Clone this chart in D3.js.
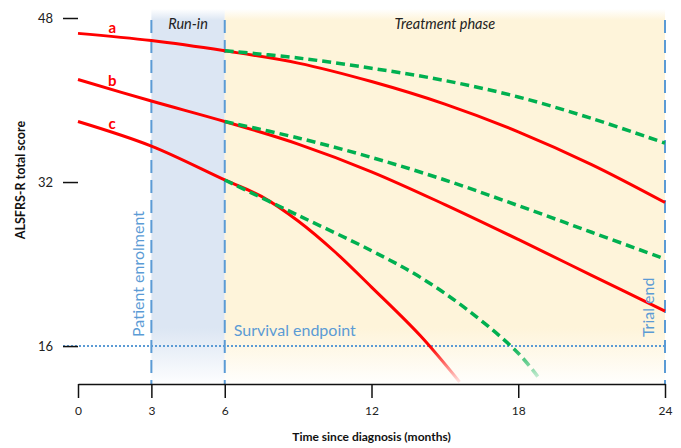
<!DOCTYPE html>
<html lang="en">
<head>
	<meta charset="utf-8">
	<title>alsfrs_trial</title>
	<style>
		body { margin: 0; background: #fff; }
		svg { display: block; font-family: Lato, "Open Sans", sans-serif; }
	</style>
</head>
<body>
	<script src="https://cdn.jsdelivr.net/npm/d3@7"></script>
	<script>
		// values
		const monthsFull = [0, 3, 6, 9, 12, 15, 18, 21, 24];
		const monthsTreat = [6, 9, 12, 15, 18, 21, 24];
		const redA = [46.5, 45.8, 44.8, 43.6, 41.8, 39.6, 36.9, 33.7, 30.0];
		const greenA = [44.8, 44.1, 43.1, 41.9, 40.3, 38.2, 35.8];
		const redB = [42.0, 39.9, 37.9, 35.7, 33.0, 29.8, 26.4, 22.9, 19.4];
		const greenB = [37.9, 36.3, 34.4, 32.2, 29.7, 27.1, 24.5];
		const monthsRedC = [0, 3, 6, 7.5, 9, 10.5, 12, 14, 15.6];
		const redC = [37.9, 35.5, 32.2, 30.6, 28.2, 25.2, 21.75, 17.0, 12.5];
		const monthsGreenC = [6, 9, 12, 14, 16, 18, 18.9];
		const greenC = [32.2, 28.75, 25.3, 22.7, 19.4, 15.3, 12.7];

		const xTicks = [0, 3, 6, 12, 18, 24];
		const yTicks = [16, 32, 48];
		const phaseMarks = [3, 6, 24];
		const survivalScore = 16;

		const width = 681, height = 448;
		const blue = "#5b9bd5", red = "#ff0000", green = "#00b050";

		const x = d3.scaleLinear().domain([0, 24]).range([78, 665]);
		const y = d3.scaleLinear().domain([12.3, 48]).range([384, 18]);

		const svg = d3.select("body").append("svg")
			.attr("width", width)
			.attr("height", height);

		const defs = svg.append("defs");

		// phase shading, faded at top and bottom
		function shadeGradient(id, color) {
			const g = defs.append("linearGradient")
				.attr("id", id)
				.attr("x1", 0).attr("y1", 0).attr("x2", 0).attr("y2", 1);
			[[0, 0], [0.03, 1], [0.85, 1], [1, 0.05]].forEach(([o, a]) => {
				g.append("stop").attr("offset", o).attr("stop-color", color).attr("stop-opacity", a);
			});
		}
		shadeGradient("runin", "#dce6f3");
		shadeGradient("treat", "#fef4da");

		// strokes that fade out below the survival endpoint
		function fadeGradient(id, color) {
			const g = defs.append("linearGradient")
				.attr("id", id)
				.attr("gradientUnits", "userSpaceOnUse")
				.attr("x1", 0).attr("x2", 0)
				.attr("y1", y(survivalScore)).attr("y2", y(12.4));
			g.append("stop").attr("offset", 0).attr("stop-color", color).attr("stop-opacity", 1);
			g.append("stop").attr("offset", 1).attr("stop-color", color).attr("stop-opacity", 0.08);
		}
		fadeGradient("fadeRed", red);
		fadeGradient("fadeGreen", green);

		const shadeTop = y(48) - 9;
		svg.append("rect")
			.attr("x", x(3)).attr("width", x(6) - x(3))
			.attr("y", shadeTop).attr("height", y(12.3) - shadeTop)
			.attr("fill", "url(#runin)");
		svg.append("rect")
			.attr("x", x(6)).attr("width", x(24) - x(6))
			.attr("y", shadeTop).attr("height", y(12.3) - shadeTop)
			.attr("fill", "url(#treat)");

		// survival endpoint
		svg.append("line")
			.attr("x1", x(0) - 15).attr("x2", x(24))
			.attr("y1", y(survivalScore)).attr("y2", y(survivalScore))
			.attr("stroke", blue)
			.attr("stroke-width", 2)
			.attr("stroke-dasharray", "2,2");

		// phase boundaries
		svg.append("g")
			.selectAll("line")
			.data(phaseMarks)
			.join("line")
			.attr("x1", d => x(d)).attr("x2", d => x(d))
			.attr("y1", y(48) + 2).attr("y2", y(12.3))
			.attr("stroke", blue)
			.attr("stroke-width", 2)
			.attr("stroke-dasharray", "13,7");

		// axes
		const xAxis = svg.append("g")
			.attr("transform", `translate(0,${y(12.3)})`)
			.call(d3.axisBottom(x).tickValues(xTicks).tickSize(14).tickSizeOuter(0).tickPadding(8));
		xAxis.select(".domain").attr("stroke", "#111").attr("stroke-width", 1.5);
		xAxis.selectAll(".tick line").attr("stroke", "#111").attr("stroke-width", 1.5);
		xAxis.selectAll("text").attr("font-size", 12).attr("fill", "#222").attr("font-family", "Lato, sans-serif");

		const yAxis = svg.append("g")
			.attr("transform", `translate(${x(0)},0)`)
			.call(d3.axisLeft(y).tickValues(yTicks).tickSize(15).tickPadding(10));
		yAxis.select(".domain").remove();
		yAxis.selectAll(".tick line").attr("stroke", "#111").attr("stroke-width", 1.5);
		yAxis.selectAll("text").attr("font-size", 13).attr("fill", "#222").attr("font-family", "Lato, sans-serif");

		svg.append("text")
			.attr("x", (x(0) + x(24)) / 2)
			.attr("y", 441)
			.attr("text-anchor", "middle")
			.attr("font-size", 12)
			.attr("font-weight", "bold")
			.attr("fill", "#111")
			.text("Time since diagnosis (months)");

		svg.append("text")
			.attr("transform", `translate(25,${y(32) - 2}) rotate(-90)`)
			.attr("text-anchor", "middle")
			.attr("font-size", 12.5)
			.attr("font-weight", "bold")
			.attr("fill", "#111")
			.text("ALSFRS-R total score");

		// disease courses
		const line = d3.line()
			.x(d => x(d[0]))
			.y(d => y(d[1]))
			.curve(d3.curveCatmullRom.alpha(0.5));

		const courses = [
			{ t: monthsFull, v: redA, stroke: red, dash: null },
			{ t: monthsFull, v: redB, stroke: red, dash: null },
			{ t: monthsRedC, v: redC, stroke: "url(#fadeRed)", dash: null },
			{ t: monthsTreat, v: greenA, stroke: green, dash: "9,5" },
			{ t: monthsTreat, v: greenB, stroke: green, dash: "9,5" },
			{ t: monthsGreenC, v: greenC, stroke: "url(#fadeGreen)", dash: "9,5" }
		];

		svg.append("g")
			.attr("fill", "none")
			.selectAll("path")
			.data(courses)
			.join("path")
			.attr("d", d => line(d.t.map((t, i) => [t, d.v[i]])))
			.attr("stroke", d => d.stroke)
			.attr("stroke-width", d => d.dash ? 3.5 : 3)
			.attr("stroke-dasharray", d => d.dash);

		// curve labels
		const labelT = 1.4;
		svg.append("g")
			.selectAll("text")
			.data([["a", redA], ["b", redB], ["c", redC]])
			.join("text")
			.attr("x", x(labelT))
			.attr("y", d => y(d[1][0] + (d[1][1] - d[1][0]) * labelT / 3) - 4)
			.attr("text-anchor", "middle")
			.attr("font-size", 15)
			.attr("font-weight", "bold")
			.attr("fill", red)
			.text(d => d[0]);

		// phase and event annotations
		svg.append("text")
			.attr("x", (x(3) + x(6)) / 2).attr("y", 29)
			.attr("text-anchor", "middle")
			.attr("font-size", 14.5).attr("font-style", "italic").attr("fill", "#222")
			.text("Run-in");
		svg.append("text")
			.attr("x", (x(6) + x(24)) / 2).attr("y", 29)
			.attr("text-anchor", "middle")
			.attr("font-size", 14.5).attr("font-style", "italic").attr("fill", "#222")
			.text("Treatment phase");

		svg.append("text")
			.attr("transform", `translate(${x(3) - 7},${y(survivalScore) - 9}) rotate(-90)`)
			.attr("font-size", 16).attr("fill", blue)
			.text("Patient enrolment");
		svg.append("text")
			.attr("x", x(6) + 9).attr("y", y(survivalScore) - 10)
			.attr("font-size", 16).attr("fill", blue)
			.text("Survival endpoint");
		svg.append("text")
			.attr("transform", `translate(${x(24) - 11},${y(survivalScore) - 9}) rotate(-90)`)
			.attr("font-size", 16).attr("fill", blue)
			.text("Trial end");
	</script>
</body>
</html>
